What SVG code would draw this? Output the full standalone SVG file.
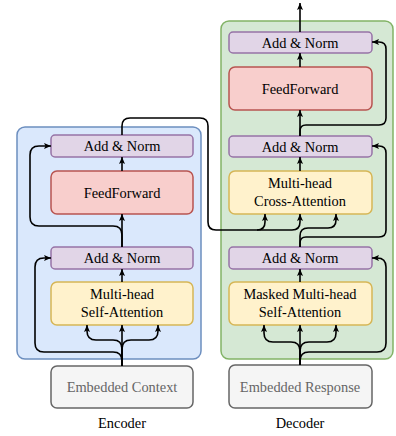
<svg xmlns="http://www.w3.org/2000/svg" width="396" height="436" viewBox="0 0 396 436">
<style>
text{font-family:'Liberation Serif','Times New Roman',Tinos,'DejaVu Serif',serif;font-size:14.4px;text-anchor:middle;fill:#000}
.norm{fill:#e1d5e7;stroke:#9673a6;stroke-width:1.5}
.ff{fill:#f8cecc;stroke:#b85450;stroke-width:1.5}
.att{fill:#fff2cc;stroke:#d6b656;stroke-width:1.5}
.emb{fill:#f5f5f5;stroke:#666666;stroke-width:1.5}
.emb-t{fill:#666666}
.c path{fill:none;stroke:#000;stroke-width:1.6}
.a{marker-end:url(#arr)}
</style>
<defs>
<marker id="arr" markerUnits="userSpaceOnUse" markerWidth="8" markerHeight="8" viewBox="0 0 8 8" refX="7" refY="4" orient="auto">
<path d="M0,1 L7,4 L0,7 L1.5,4 Z" fill="#000"/>
</marker>
</defs>
<g id="encoder-panel"><rect x="17" y="127" width="184" height="232" rx="8" fill="#dae8fc" stroke="#6c8ebf" stroke-width="1.5"/></g>
<g id="decoder-panel"><rect x="221" y="21" width="172" height="338" rx="8" fill="#d5e8d4" stroke="#82b366" stroke-width="1.5"/></g>

<g id="enc-addnorm2"><rect class="norm" x="51" y="135" width="142" height="22" rx="4"/><text x="122" y="151">Add &amp; Norm</text></g>
<g id="enc-ff"><rect class="ff" x="51" y="171" width="142" height="43" rx="6"/><text x="122" y="197.5">FeedForward</text></g>
<g id="enc-addnorm1"><rect class="norm" x="51" y="247" width="142" height="22" rx="4"/><text x="122" y="263">Add &amp; Norm</text></g>
<g id="enc-sa"><rect class="att" x="51" y="282" width="142" height="43" rx="6"/><text x="122" y="299">Multi-head</text><text x="122" y="317">Self-Attention</text></g>
<g id="enc-emb"><rect class="emb" x="51" y="366" width="142" height="42" rx="6"/><text class="emb-t" x="122" y="392">Embedded Context</text></g>
<g id="enc-label"><text x="122" y="428">Encoder</text></g>

<g id="dec-addnorm3"><rect class="norm" x="229" y="32" width="143" height="21" rx="4"/><text x="300" y="47.5">Add &amp; Norm</text></g>
<g id="dec-ff"><rect class="ff" x="229" y="67" width="143" height="43" rx="6"/><text x="300" y="93.5">FeedForward</text></g>
<g id="dec-addnorm2"><rect class="norm" x="229" y="136" width="143" height="21" rx="4"/><text x="300" y="151.5">Add &amp; Norm</text></g>
<g id="dec-ca"><rect class="att" x="229" y="171" width="143" height="43" rx="6"/><text x="300" y="188">Multi-head</text><text x="300" y="206">Cross-Attention</text></g>
<g id="dec-addnorm1"><rect class="norm" x="229" y="247" width="143" height="22" rx="4"/><text x="300" y="263">Add &amp; Norm</text></g>
<g id="dec-msa"><rect class="att" x="229" y="282" width="143" height="43" rx="6"/><text x="300" y="299">Masked Multi-head</text><text x="300" y="317">Self-Attention</text></g>
<g id="dec-emb"><rect class="emb" x="229" y="365" width="143" height="43" rx="6"/><text class="emb-t" x="300" y="391.5">Embedded Response</text></g>
<g id="dec-label"><text x="300" y="428">Decoder</text></g>

<g id="connectors" class="c">
<path class="a" d="M122,366 V325"/>
<path class="a" d="M122,366 V349 Q122,340 113,340 H96 Q87,340 87,331 V325"/>
<path class="a" d="M122,366 V349 Q122,340 131,340 H149 Q158,340 158,331 V325"/>
<path class="a" d="M122,366 V361 Q122,352 113,352 H44 Q35,352 35,343 V267 Q35,258 44,258 H51"/>
<path class="a" d="M122,282 V269"/>
<path class="a" d="M122,247 V214"/>
<path class="a" d="M122,247 V235 Q122,226 113,226 H39 Q30,226 30,217 V155 Q30,146 39,146 H51"/>
<path class="a" d="M122,171 V157"/>
<path class="a" d="M122,135 V126 Q122,118 130,118 H200 Q208,118 208,126 V222 Q208,230 216,230 H257 Q265,230 265,222 V214"/>
<path class="a" d="M257,230 H292 Q300,230 300,222 V214"/>

<path class="a" d="M300,365 V325"/>
<path class="a" d="M300,365 V351 Q300,342 291,342 H273 Q264,342 264,333 V325"/>
<path class="a" d="M300,365 V351 Q300,342 309,342 H327 Q336,342 336,333 V325"/>
<path class="a" d="M300,365 V361 Q300,352 309,352 H377 Q386,352 386,343 V267 Q386,258 377,258 H372"/>
<path class="a" d="M300,282 V269"/>
<path class="a" d="M300,247 V236 Q300,228 308,228 H328 Q336,228 336,220 V214"/>
<path class="a" d="M300,247 V243 Q300,237 306,237 H379 Q386,237 386,230 V153 Q386,146 379,146 H372"/>
<path class="a" d="M300,171 V157"/>
<path class="a" d="M300,136 V110"/>
<path class="a" d="M300,136 V131 Q300,125 306,125 H379 Q386,125 386,118 V49 Q386,42 379,42 H372"/>
<path class="a" d="M300,67 V53"/>
<path class="a" d="M300,32 V3"/>
</g>
</svg>
